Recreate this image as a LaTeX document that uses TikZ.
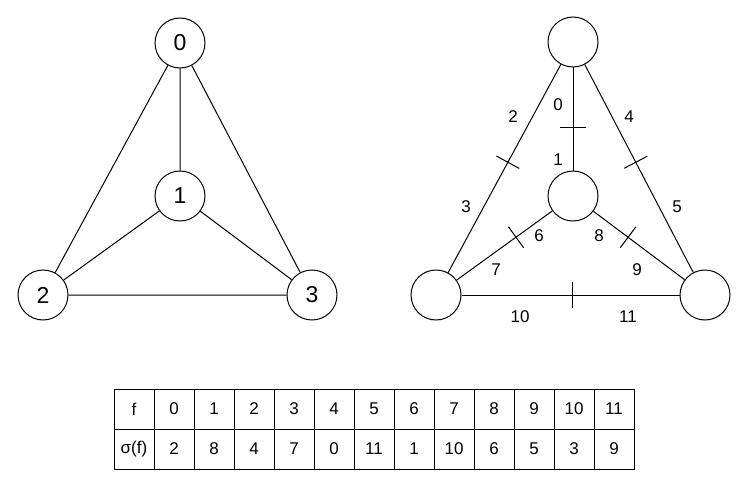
\documentclass[tikz,border=0pt]{standalone}
\usepackage{fontspec}
\setmainfont{Liberation Sans}

\begin{document}
\begin{tikzpicture}[x=1pt,y=-1pt,
        vert/.style={draw,circle,line width=1pt,minimum size=50pt,inner sep=0pt,font=\fontsize{23}{23}\selectfont},
        link/.style={line width=1pt},
        dartmark/.style={draw,line width=1pt,inner sep=0pt,minimum width=0pt,minimum height=26pt,sloped},
        dartlbl/.style={font=\fontsize{17}{17}\selectfont},
        cell/.style={draw,line width=1pt,minimum width=40pt,minimum height=40pt,inner sep=0pt,font=\fontsize{17}{17}\selectfont}]
        \useasboundingbox (0,0) rectangle (747,487);
        % graph with labelled vertices
        \node[vert] (a0) at (180,43) {0};
        \node[vert] (a1) at (180,196) {1};
        \node[vert] (a2) at (43,295) {2};
        \node[vert] (a3) at (312,295) {3};
        \draw[link] (a0)--(a1) (a0)--(a2) (a0)--(a3) (a1)--(a2) (a1)--(a3) (a2)--(a3);
        % same graph, split into darts
        \node[vert] (b0) at (573,42) {};
        \node[vert] (b1) at (573,196) {};
        \node[vert] (b2) at (436,295) {};
        \node[vert] (b3) at (705,295) {};
        \draw[link] (b0) -- node[dartmark,pos=0.58] (m01) {} (b1);
        \draw[link] (b0) -- node[dartmark,pos=0.47] (m02) {} (b2);
        \draw[link] (b0) -- node[dartmark,pos=0.47] (m03) {} (b3);
        \draw[link] (b1) -- node[dartmark,pos=0.38] (m12) {} (b2);
        \draw[link] (b1) -- node[dartmark,pos=0.38] (m13) {} (b3);
        \draw[link] (b2) -- node[dartmark,pos=0.51] (m23) {} (b3);
        \node[dartlbl] (d0) at (558,105) {0};
        \node[dartlbl] (d1) at (558,160) {1};
        \node[dartlbl] (d2) at (513,117) {2};
        \node[dartlbl] (d3) at (466,207) {3};
        \node[dartlbl] (d4) at (629,117) {4};
        \node[dartlbl] (d5) at (677,207) {5};
        \node[dartlbl] (d6) at (539,236) {6};
        \node[dartlbl] (d7) at (496,270) {7};
        \node[dartlbl] (d8) at (599,236) {8};
        \node[dartlbl] (d9) at (637,270) {9};
        \node[dartlbl] (d10) at (520,317) {10};
        \node[dartlbl] (d11) at (628,317) {11};
        % permutation table
        \node[cell] (f0) at (134,409) {f};
        \node[cell] (s0) at (134,449) {σ(f)};
        \foreach \a/\b [count=\i] in {0/2,1/8,2/4,3/7,4/0,5/11,6/1,7/10,8/6,9/5,10/3,11/9} {
            \node[cell] (f\i) at (134+40*\i,409) {\a};
            \node[cell] (s\i) at (134+40*\i,449) {\b};
        }
\end{tikzpicture}
\end{document}
